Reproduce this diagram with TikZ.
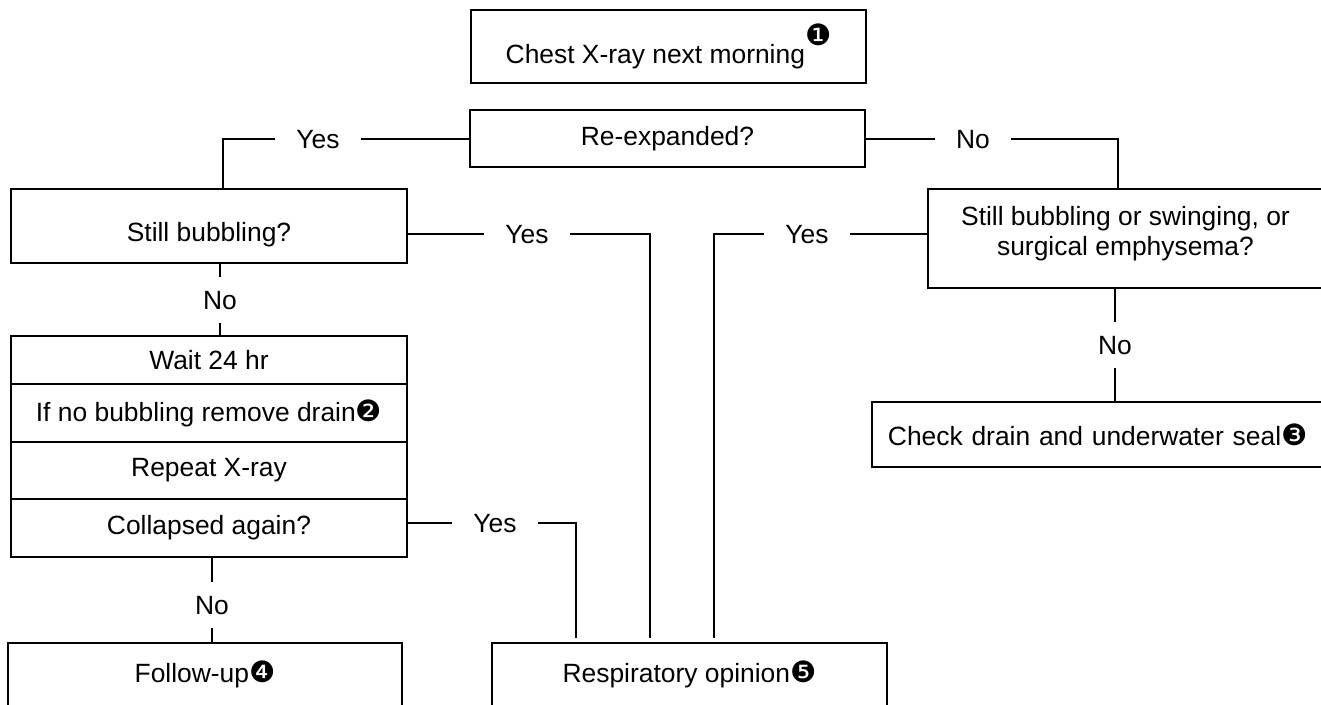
\documentclass[tikz,border=0pt]{standalone}
\usepackage{fontspec}
\setmainfont{Liberation Sans}
\newfontfamily\dingfont{DejaVu Sans}
\newcommand{\circnum}[1]{{\dingfont\fontsize{22}{22}\selectfont #1}}

\begin{document}
\begin{tikzpicture}[x=0.75pt, y=-0.75pt,
    every node/.style={font=\fontsize{19.8}{22.5}\selectfont, text=black},
    box/.style={draw, line width=1.4pt, align=center, inner sep=0pt},
    answer/.style={inner xsep=16pt, inner ysep=10pt, text height=14.2pt, text depth=0pt},
    link/.style={line width=1pt},
    ]
  \useasboundingbox (0,0) rectangle (1321,705);
  \clip (0,0) rectangle (1321,705);
  \node[box, minimum width=296.25pt, minimum height=54.75pt] (chest) at (668.5,46.5) {Chest X-ray next morning\raisebox{14pt}{\circnum{❶}}};
  \node[box, minimum width=296.25pt, minimum height=42.75pt] (reexp) at (667.5,138.5) {Re-expanded?};
  \node[box, minimum width=297pt, minimum height=55.5pt, text height=28pt, text depth=4.2pt] (still) at (209,226) {Still bubbling?};
  \node[box, minimum width=296.25pt, minimum height=74.25pt] (swing) at (1125.5,238.5) {Still bubbling or swinging, or\\ surgical emphysema?\rule[-11.5pt]{0pt}{0pt}};
  \node[box, anchor=west, minimum width=341.25pt, minimum height=48.75pt, text width=317.25pt, align=left] (check) at (871,434.5) {Check drain and underwater seal\circnum{❸}};
  \node[box, minimum width=297pt, minimum height=36pt] (wait) at (209,360) {Wait 24 hr};
  \node[box, minimum width=297pt, minimum height=43.5pt] (ifno) at (209,413) {If no bubbling remove drain\circnum{❷}};
  \node[box, minimum width=297pt, minimum height=42.75pt] (repeat) at (209,470.5) {Repeat X-ray};
  \node[box, minimum width=297pt, minimum height=43.5pt] (coll) at (209,528) {Collapsed again?};
  \node[box, minimum width=295.5pt, minimum height=47.25pt] (follow) at (205,674.5) {Follow-up\circnum{❹}};
  \node[box, minimum width=296.25pt, minimum height=47.25pt] (resp) at (689.5,674.5) {Respiratory opinion\circnum{❺}};

  \node[answer] (yes1) at (318,139) {Yes};
  \node[answer] (no1) at (973,139) {No};
  \node[answer] (yes2) at (527,234) {Yes};
  \node[answer] (yes3) at (807,234) {Yes};
  \node[answer] (no2) at (220,300) {No};
  \node[answer] (no3) at (1115,345) {No};
  \node[answer] (yes4) at (495,523) {Yes};
  \node[answer] (no4) at (212,605) {No};
  \coordinate (end1) at (576,638);
  \coordinate (end2) at (650,638);
  \coordinate (end3) at (714,638);

  \draw[link] (yes1.east) -- (yes1.east -| reexp.west) (yes1.west) -| ([xshift=10.5pt]still.north);
  \draw[link] (no1.west) -- (no1.west -| reexp.east) (no1.east) -| ([xshift=-5.6pt]swing.north);
  \draw[link] (yes2.west) -- (yes2.west -| still.east) (yes2.east) -| (end2);
  \draw[link] (yes3.east) -- (yes3.east -| swing.west) (yes3.west) -| (end3);
  \draw[link] (no2.north) -- (no2.north |- still.south) (no2.south) -- (no2.south |- wait.north);
  \draw[link] (no3.north) -- (no3.north |- swing.south) (no3.south) -- (no3.south |- check.north);
  \draw[link] (yes4.west) -- (yes4.west -| coll.east) (yes4.east) -| (end1);
  \draw[link] (no4.north) -- (no4.north |- coll.south) (no4.south) -- (no4.south |- follow.north);
\end{tikzpicture}
\end{document}
